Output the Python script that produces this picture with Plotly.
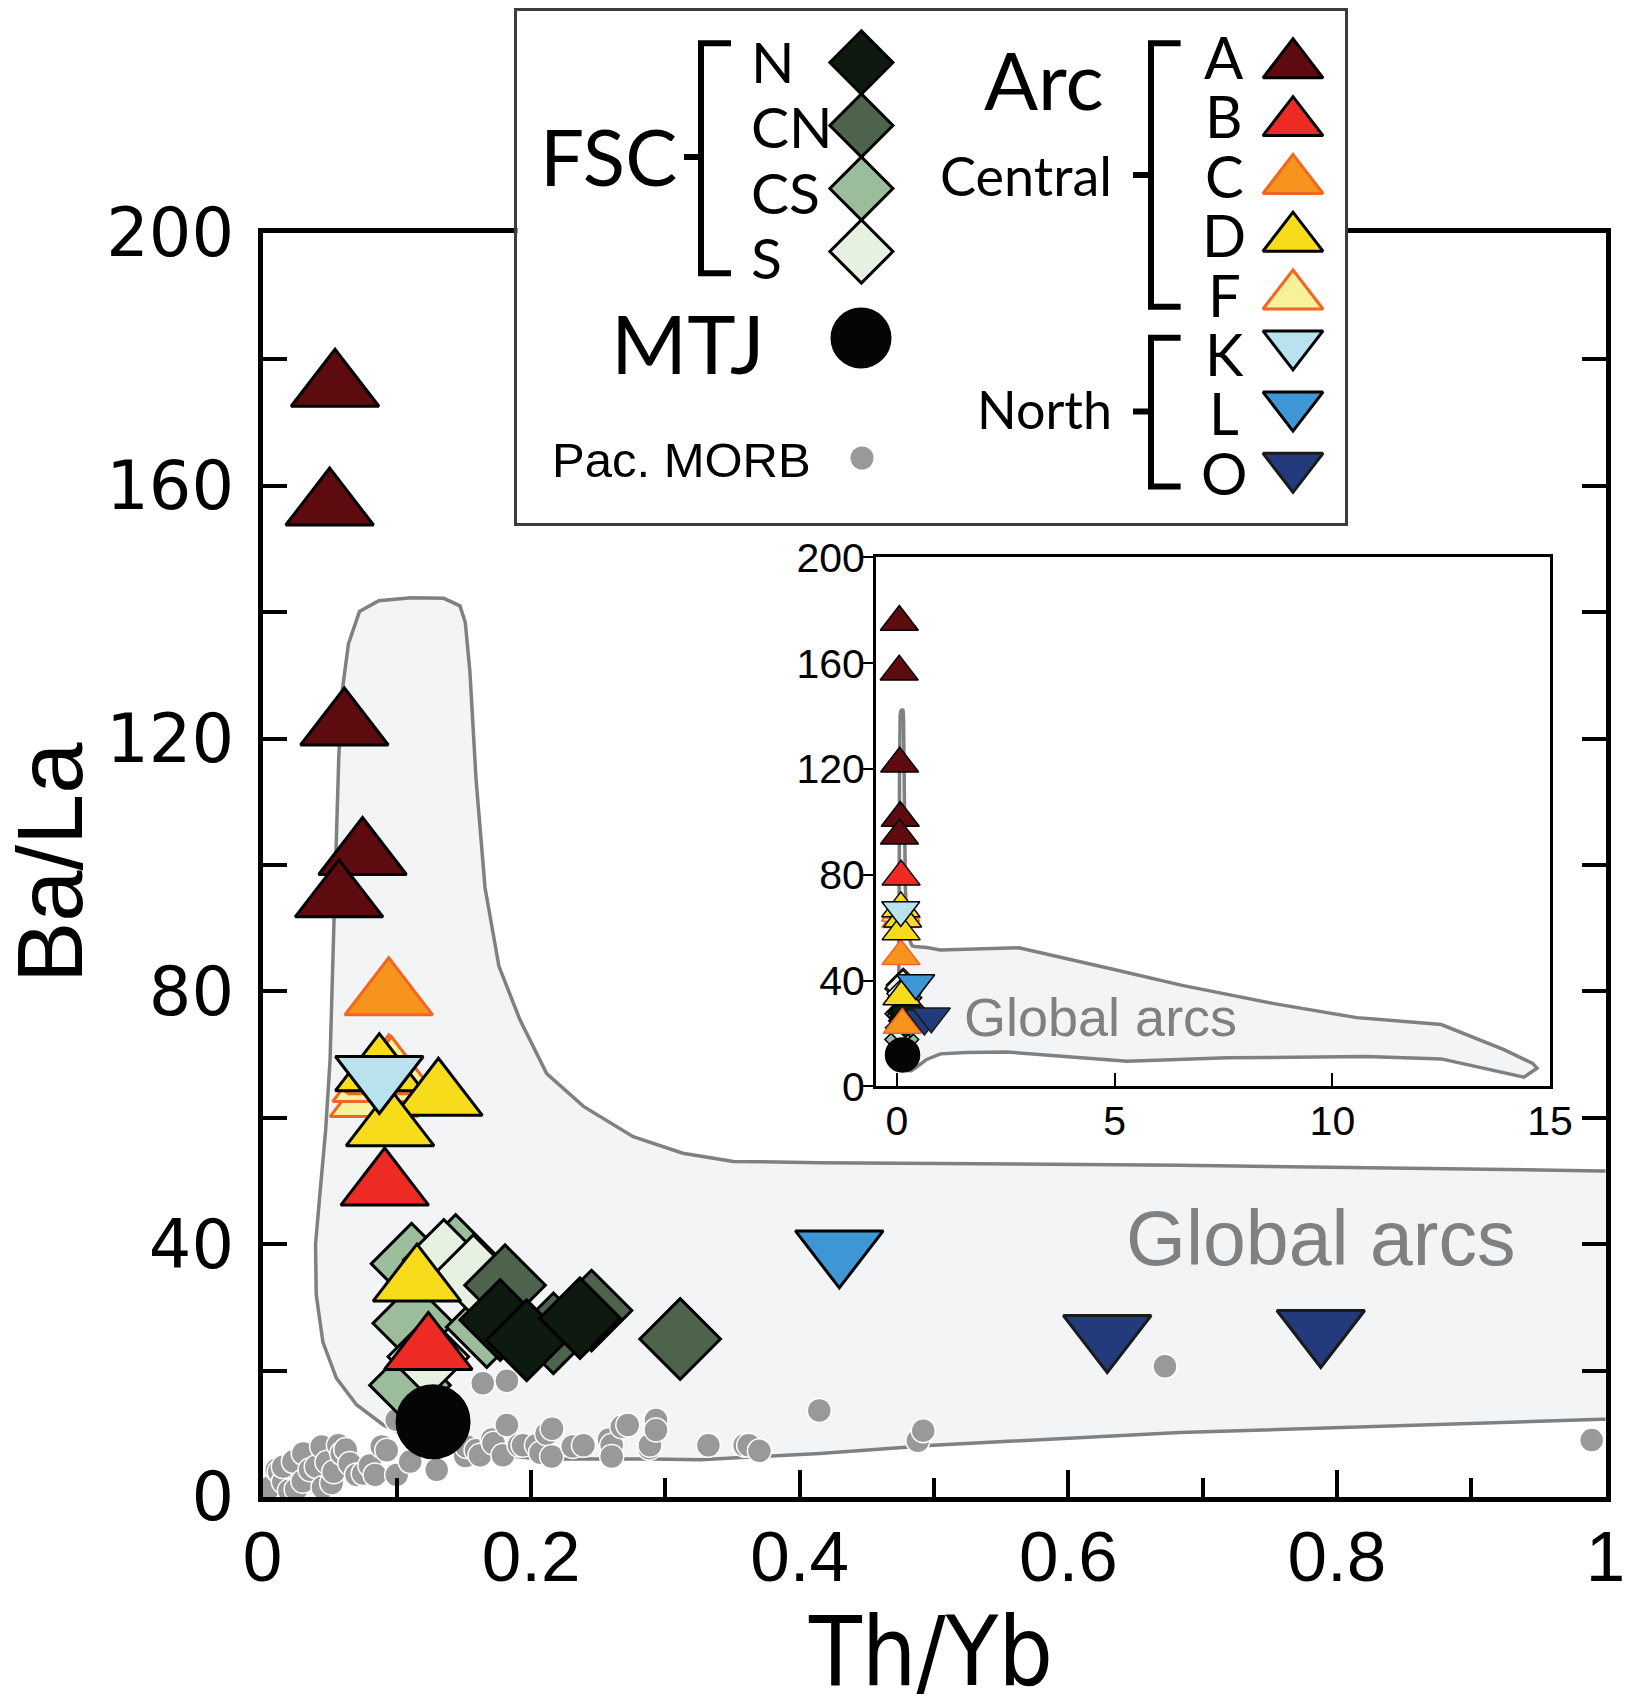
import plotly.graph_objects as go

W, H = 1628, 1697

# ---------------------------------------------------------------
# Data: Th/Yb (x) versus Ba/La (y)
# ---------------------------------------------------------------
# Arc volcanics, central segments
ARC_A_THYB = [0.054, 0.050, 0.061, 0.0745, 0.057]
ARC_A_BALA = [175.6, 156.8, 122.0, 101.5, 94.8]
ARC_B_THYB = [0.091, 0.1235]
ARC_B_BALA = [49.2, 23.2]
ARC_C_THYB = [0.094]
ARC_C_BALA = [79.3]
ARC_F_THYB = [0.083, 0.085, 0.094, 0.096]
ARC_F_BALA = [63.2, 65.6, 67.1, 66.8]
ARC_D_THYB = [0.087, 0.131, 0.095, 0.115]
ARC_D_BALA = [67.3, 63.4, 58.6, 34.0]
# Arc volcanics, northern segments
ARC_K_THYB = [0.087]
ARC_K_BALA = [66.7]
ARC_L_THYB = [0.4295]
ARC_L_BALA = [39.1]
ARC_O_THYB = [0.629, 0.788]
ARC_O_BALA = [25.7, 26.5]

# Fore-arc spreading centre segments
FSC_CS_THYB = [0.111, 0.1438, 0.1123, 0.167, 0.1098]
FSC_CS_BALA = [36.9, 38.3, 27.5, 26.9, 17.7]
FSC_S_THYB = [0.135, 0.157, 0.1235]
FSC_S_BALA = [37.5, 35.1, 22.2]
FSC_CN_THYB = [0.1806, 0.2166, 0.245, 0.311]
FSC_CN_BALA = [33.5, 25.9, 29.5, 25.0]
FSC_N_THYB = [0.177, 0.1967, 0.2364]
FSC_N_BALA = [28.0, 24.8, 28.3]

# Mariana Trough junction
MTJ_THYB = [0.127]
MTJ_BALA = [11.9]

# Pacific MORB
MORB_THYB = [0.005, 0.0106, 0.0124, 0.0155, 0.0155, 0.02, 0.023, 0.025, 0.03,
             0.0304, 0.0354, 0.040, 0.044, 0.045, 0.048, 0.0515, 0.053, 0.0565,
             0.059, 0.062, 0.065, 0.070, 0.075, 0.08, 0.0838, 0.0888, 0.0925,
             0.0999, 0.0999, 0.11, 0.1297, 0.151, 0.152, 0.159, 0.162, 0.164,
             0.171, 0.172, 0.179, 0.182, 0.182, 0.191, 0.194, 0.204, 0.207,
             0.2115, 0.2156, 0.2153, 0.231, 0.239, 0.258, 0.26, 0.26, 0.2675,
             0.272, 0.288, 0.2885, 0.293, 0.293, 0.332, 0.359, 0.362, 0.370,
             0.4146, 0.488, 0.492, 0.672, 0.9897]
MORB_BALA = [1.5, 4.3, 4.0, 2.4, 4.8, 1.0, 5.6, 1.2, 2.5,
             6.9, 4.3, 4.8, 8.0, 1.5, 5.5, 2.2, 4.0, 8.2,
             6.9, 7.5, 5.3, 3.5, 3.7, 5.0, 3.5, 8.0, 7.4,
             3.5, 12.2, 5.6, 4.3, 6.5, 8.0, 7.4, 6.6, 18.0,
             9.1, 8.5, 6.6, 18.4, 11.4, 8.2, 8.2, 8.2, 7.0,
             10.0, 10.8, 6.4, 8.0, 8.2, 9.1, 8.2, 6.4, 11.1,
             11.4, 7.7, 8.2, 12.2, 10.6, 8.2, 8.2, 8.2, 7.3,
             13.7, 8.9, 10.5, 20.7, 9.0]

# Outline of the global arc field (continues to Th/Yb = 15)
FIELD_THYB = [0.143, 0.11, 0.09, 0.07, 0.055, 0.045, 0.040, 0.0395, 0.0428,
              0.047, 0.0503, 0.0527, 0.0544, 0.0568, 0.0592, 0.064, 0.0722,
              0.0866, 0.1108, 0.135, 0.147, 0.151, 0.1544, 0.159, 0.1657,
              0.176, 0.1917, 0.2116, 0.239, 0.276, 0.313, 0.3506, 0.415,
              0.683, 0.997, 2.8, 4.96, 6.55, 8.66, 10.56, 12.5, 13.94, 14.6,
              14.7, 14.4, 12.5, 10.77, 7.6, 5.28, 2.53, 1.6, 0.997, 0.683,
              0.4995, 0.415, 0.326, 0.289, 0.207, 0.143]
FIELD_BALA = [7.4, 9.3, 11.4, 14.6, 18.8, 24.5, 32.0, 40.0, 48.1,
              58.0, 69.1, 85.0, 99.9, 117.0, 127.3, 135.0, 140.1,
              141.8, 142.3, 142.2, 141.0, 138.4, 130.7, 113.6, 96.4,
              84.0, 75.5, 67.0, 61.8, 57.0, 54.4, 53.1, 52.9,
              52.5, 51.6, 52.4, 44.3, 38.2, 31.3, 26.0, 23.4, 13.9, 8.7,
              6.9, 3.5, 10.4, 11.3, 10.8, 9.5, 13.0, 12.8, 12.3, 10.2,
              8.2, 6.9, 5.9, 6.0, 6.0, 7.4]

# Axis ticks
MAIN_X_TICKS = [0, 0.2, 0.4, 0.6, 0.8, 1.0]
MAIN_X_TICKTEXT = ["0", "0.2", "0.4", "0.6", "0.8", "1"]
MAIN_X_MINOR = [0.1, 0.3, 0.5, 0.7, 0.9]
MAIN_Y_TICKS = [0, 20, 40, 60, 80, 100, 120, 140, 160, 180, 200]
MAIN_Y_TICKTEXT = ["0", "", "40", "", "80", "", "120", "", "160", "", "200"]
INSET_X_TICKS = [0, 5, 10, 15]
INSET_Y_TICKS = [0, 40, 80, 120, 160, 200]

# Legend groups
FSC_GROUPS = ["N", "CN", "CS", "S"]
CENTRAL_GROUPS = ["A", "B", "C", "D", "F"]
NORTH_GROUPS = ["K", "L", "O"]

# ---------------------------------------------------------------
# Styles
# ---------------------------------------------------------------
ORANGE_EDGE = "#f26522"
STYLE = {
    "A": dict(symbol="triangle-up", fill="#5e0b0f", edge="#000000"),
    "B": dict(symbol="triangle-up", fill="#ee2a24", edge="#000000"),
    "C": dict(symbol="triangle-up", fill="#f7941d", edge=ORANGE_EDGE),
    "D": dict(symbol="triangle-up", fill="#f7dc1b", edge="#000000"),
    "F": dict(symbol="triangle-up", fill="#f6f19b", edge=ORANGE_EDGE),
    "K": dict(symbol="triangle-down", fill="#b7e2ee", edge="#000000"),
    "L": dict(symbol="triangle-down", fill="#3f96d4", edge="#000000"),
    "O": dict(symbol="triangle-down", fill="#233a7c", edge="#1a1a1a"),
    "N": dict(symbol="diamond", fill="#0e190f", edge="#000000"),
    "CN": dict(symbol="diamond", fill="#4d634b", edge="#000000"),
    "CS": dict(symbol="diamond", fill="#9bbd9b", edge="#000000"),
    "S": dict(symbol="diamond", fill="#e7f1e2", edge="#000000"),
    "MTJ": dict(symbol="circle", fill="#050505", edge="#050505"),
}
# the small overview panel renders B and C with each other's symbols
INSET_STYLE_KEY = {"B": "C", "C": "B"}

SERIES = {
    "A": (ARC_A_THYB, ARC_A_BALA), "B": (ARC_B_THYB, ARC_B_BALA),
    "C": (ARC_C_THYB, ARC_C_BALA), "F": (ARC_F_THYB, ARC_F_BALA),
    "D": (ARC_D_THYB, ARC_D_BALA), "K": (ARC_K_THYB, ARC_K_BALA),
    "L": (ARC_L_THYB, ARC_L_BALA), "O": (ARC_O_THYB, ARC_O_BALA),
    "CS": (FSC_CS_THYB, FSC_CS_BALA), "S": (FSC_S_THYB, FSC_S_BALA),
    "CN": (FSC_CN_THYB, FSC_CN_BALA), "N": (FSC_N_THYB, FSC_N_BALA),
    "MTJ": (MTJ_THYB, MTJ_BALA),
}
DRAW_ORDER = ["CS", "S", "CN", "N", "A", "B", "C", "F", "D", "K", "L", "O", "MTJ"]

ARIAL = "Liberation Sans, Arial, Helvetica, sans-serif"
CONDENSED = "DejaVu Sans Condensed, Liberation Sans Narrow, sans-serif"
WIDE = "DejaVu Sans, Verdana, sans-serif"
LEGFONT = "Lato, Liberation Sans, Arial, sans-serif"

FIELD_FILL = "#f3f4f6"
FIELD_LINE = "#808080"
MORB_COLOR = "#999999"


def xdom(a, b):
    return [a / W, b / W]


def ydom(top, bottom):
    return [1 - bottom / H, 1 - top / H]


fig = go.Figure()


def add_field(xa, ya, lw):
    fig.add_trace(go.Scatter(
        x=FIELD_THYB, y=FIELD_BALA, mode="lines", fill="toself",
        fillcolor=FIELD_FILL, line=dict(color=FIELD_LINE, width=lw),
        xaxis=xa, yaxis=ya, hoverinfo="skip"))


def add_group(key, style_key, xa, ya, tri, dia, circ, lw):
    st = STYLE[style_key]
    if st["symbol"] == "diamond":
        size = dia
    elif st["symbol"] == "circle":
        size = circ
    else:
        size = tri
    xs, ys = SERIES[key]
    fig.add_trace(go.Scatter(
        x=xs, y=ys, mode="markers", xaxis=xa, yaxis=ya, name=key,
        marker=dict(symbol=st["symbol"], size=size, color=st["fill"],
                    line=dict(color=st["edge"], width=lw)),
        hoverinfo="skip"))


# ---- main panel ----
add_field("x", "y", 3.5)
fig.add_trace(go.Scatter(
    x=MORB_THYB, y=MORB_BALA, mode="markers", xaxis="x", yaxis="y",
    marker=dict(symbol="circle", size=24, color=MORB_COLOR,
                line=dict(color="white", width=1.5)), hoverinfo="skip"))
for k in DRAW_ORDER:
    add_group(k, k, "x", "y", tri=76, dia=62, circ=72, lw=3)

# ---- overview inset ----
add_field("x2", "y2", 3.5)
for k in DRAW_ORDER:
    add_group(k, INSET_STYLE_KEY.get(k, k), "x2", "y2", tri=33, dia=26, circ=34, lw=1.5)

# ---- key panel (axes in figure pixels) ----
LEG_L, LEG_R, LEG_T, LEG_B = 517.4, 1345.4, 10.8, 522.8
annotations = []
shapes = []


def leg_marker(x, y, style_key, size, lw=3):
    st = STYLE[style_key]
    fig.add_trace(go.Scatter(
        x=[x], y=[y], mode="markers", xaxis="x3", yaxis="y3", cliponaxis=False,
        marker=dict(symbol=st["symbol"], size=size, color=st["fill"],
                    line=dict(color=st["edge"], width=lw)), hoverinfo="skip"))


def leg_text(x, y, text, size, family=LEGFONT, anchor="center"):
    annotations.append(dict(x=x, y=y, xref="x3", yref="y3", text=text,
                            showarrow=False, xanchor=anchor, yanchor="middle",
                            font=dict(family=family, size=size, color="black")))


def bracket(x_tick0, x_spine, x_arm, y_top, y_bot, y_tick):
    line = dict(color="black", width=6)
    path = (f"M{x_arm},{y_top} L{x_spine},{y_top} L{x_spine},{y_bot} L{x_arm},{y_bot}")
    shapes.append(dict(type="path", path=path, xref="x3", yref="y3", line=line))
    shapes.append(dict(type="line", x0=x_tick0, x1=x_spine, y0=y_tick, y1=y_tick,
                       xref="x3", yref="y3", line=line))


# FSC block
leg_text(608.5, 156.3, "FSC", 78)
bracket(684, 701, 731, 43.3, 273.2, 157)
FSC_LABEL_Y0, FSC_LABEL_DY = 60.5, 65.5
FSC_SYM_Y0, FSC_SYM_DY = 62.5, 63.0
for i, g in enumerate(FSC_GROUPS):
    leg_text(749, FSC_LABEL_Y0 + i * FSC_LABEL_DY, g, 57, anchor="left")
    leg_marker(861.4, FSC_SYM_Y0 + i * FSC_SYM_DY, g, 48.5)

# MTJ and MORB
leg_text(688, 342, "MTJ", 82)
leg_marker(861, 338, "MTJ", 58)
leg_text(681, 460, "Pac. MORB", 49, family=ARIAL)
fig.add_trace(go.Scatter(
    x=[862], y=[458], mode="markers", xaxis="x3", yaxis="y3", cliponaxis=False,
    marker=dict(symbol="circle", size=23, color=MORB_COLOR), hoverinfo="skip"))

# Arc block
leg_text(1043.5, 79.4, "Arc", 80)
leg_text(1114, 175, "Central", 54, anchor="right")
bracket(1133, 1151, 1180.6, 43.3, 306.8, 175)
ARC_LABEL_Y0, ARC_LABEL_DY = 56.6, 59.35
ARC_SYM_Y0, ARC_SYM_DY = 64.8, 57.8
for i, g in enumerate(CENTRAL_GROUPS):
    leg_text(1224, ARC_LABEL_Y0 + i * ARC_LABEL_DY, g, 58)
    leg_marker(1293, ARC_SYM_Y0 + i * ARC_SYM_DY, g, 52)

leg_text(1114, 409, "North", 52, anchor="right")
bracket(1133, 1151, 1180.6, 337.8, 486.5, 411.5)
NORTH_LABEL_Y0, NORTH_LABEL_DY = 353, 59.5
NORTH_SYM_Y0, NORTH_SYM_DY = 343.9, 61.2
for i, g in enumerate(NORTH_GROUPS):
    leg_text(1224, NORTH_LABEL_Y0 + i * NORTH_LABEL_DY, g, 58)
    leg_marker(1293, NORTH_SYM_Y0 + i * NORTH_SYM_DY, g, 52)

# Field labels and axis titles
annotations += [
    dict(x=1320.5 / W, y=1 - 1237.5 / H, xref="paper", yref="paper", text="Global arcs",
         showarrow=False, xanchor="center", yanchor="middle",
         font=dict(family=ARIAL, size=77, color="#808080")),
    dict(x=1100.6 / W, y=1 - 1017.4 / H, xref="paper", yref="paper", text="Global arcs",
         showarrow=False, xanchor="center", yanchor="middle",
         font=dict(family=ARIAL, size=54, color="#808080")),
    dict(x=50 / W, y=1 - 863 / H, xref="paper", yref="paper", text="Ba/La",
         showarrow=False, xanchor="center", yanchor="middle", textangle=-90,
         font=dict(family=ARIAL, size=92, color="black")),
    dict(x=930 / W, y=1 - 1652 / H, xref="paper", yref="paper", text="Th/Yb",
         showarrow=False, xanchor="center", yanchor="middle",
         font=dict(family=CONDENSED, size=96, color="black")),
]

blank_axis = dict(showgrid=False, zeroline=False, showticklabels=False, ticks="")

fig.update_layout(
    width=W, height=H, template="none", showlegend=False,
    margin=dict(l=0, r=0, t=0, b=0),
    paper_bgcolor="white", plot_bgcolor="white",
    xaxis=dict(domain=xdom(262.5, 1605.5), range=[0, 1], anchor="y",
               showline=True, linecolor="black", linewidth=5, mirror=True,
               ticks="inside", ticklen=27, tickwidth=4, tickcolor="black",
               tickvals=MAIN_X_TICKS, ticktext=MAIN_X_TICKTEXT,
               minor=dict(tickvals=MAIN_X_MINOR, ticks="inside", ticklen=19,
                          tickwidth=4, tickcolor="black"),
               tickfont=dict(family=ARIAL, size=71, color="black"),
               ticklabelstandoff=-6, showgrid=False, zeroline=False),
    yaxis=dict(domain=ydom(233, 1497), range=[0, 200], anchor="x",
               showline=True, linecolor="black", linewidth=5, mirror="ticks",
               ticks="inside", ticklen=24, tickwidth=4, tickcolor="black",
               tickvals=MAIN_Y_TICKS, ticktext=MAIN_Y_TICKTEXT,
               tickfont=dict(family=WIDE, size=67, color="black"),
               ticklabelstandoff=10, showgrid=False, zeroline=False),
    xaxis2=dict(domain=xdom(876.1, 1550.1), range=[-0.48, 15], anchor="y2",
                showline=True, linecolor="black", linewidth=3, mirror=True,
                ticks="inside", ticklen=13, tickwidth=2, tickcolor="black",
                tickvals=INSET_X_TICKS,
                tickfont=dict(family=ARIAL, size=41, color="black"),
                ticklabelstandoff=-4, showgrid=False, zeroline=False),
    yaxis2=dict(domain=ydom(557.4, 1086.4), range=[0, 200], anchor="x2",
                showline=True, linecolor="black", linewidth=3, mirror=True,
                ticks="outside", ticklen=10, tickwidth=2, tickcolor="black",
                tickvals=INSET_Y_TICKS,
                tickfont=dict(family=ARIAL, size=41, color="black"),
                ticklabelstandoff=-10, showgrid=False, zeroline=False),
    xaxis3=dict(domain=xdom(LEG_L, LEG_R), range=[LEG_L, LEG_R], anchor="y3",
                showline=True, linecolor="#3d3d3d", linewidth=3, mirror=True, **blank_axis),
    yaxis3=dict(domain=ydom(LEG_T, LEG_B), range=[LEG_B, LEG_T], anchor="x3",
                showline=True, linecolor="#3d3d3d", linewidth=3, mirror=True, **blank_axis),
    annotations=annotations,
    shapes=shapes,
)

fig.write_html("out.html")
